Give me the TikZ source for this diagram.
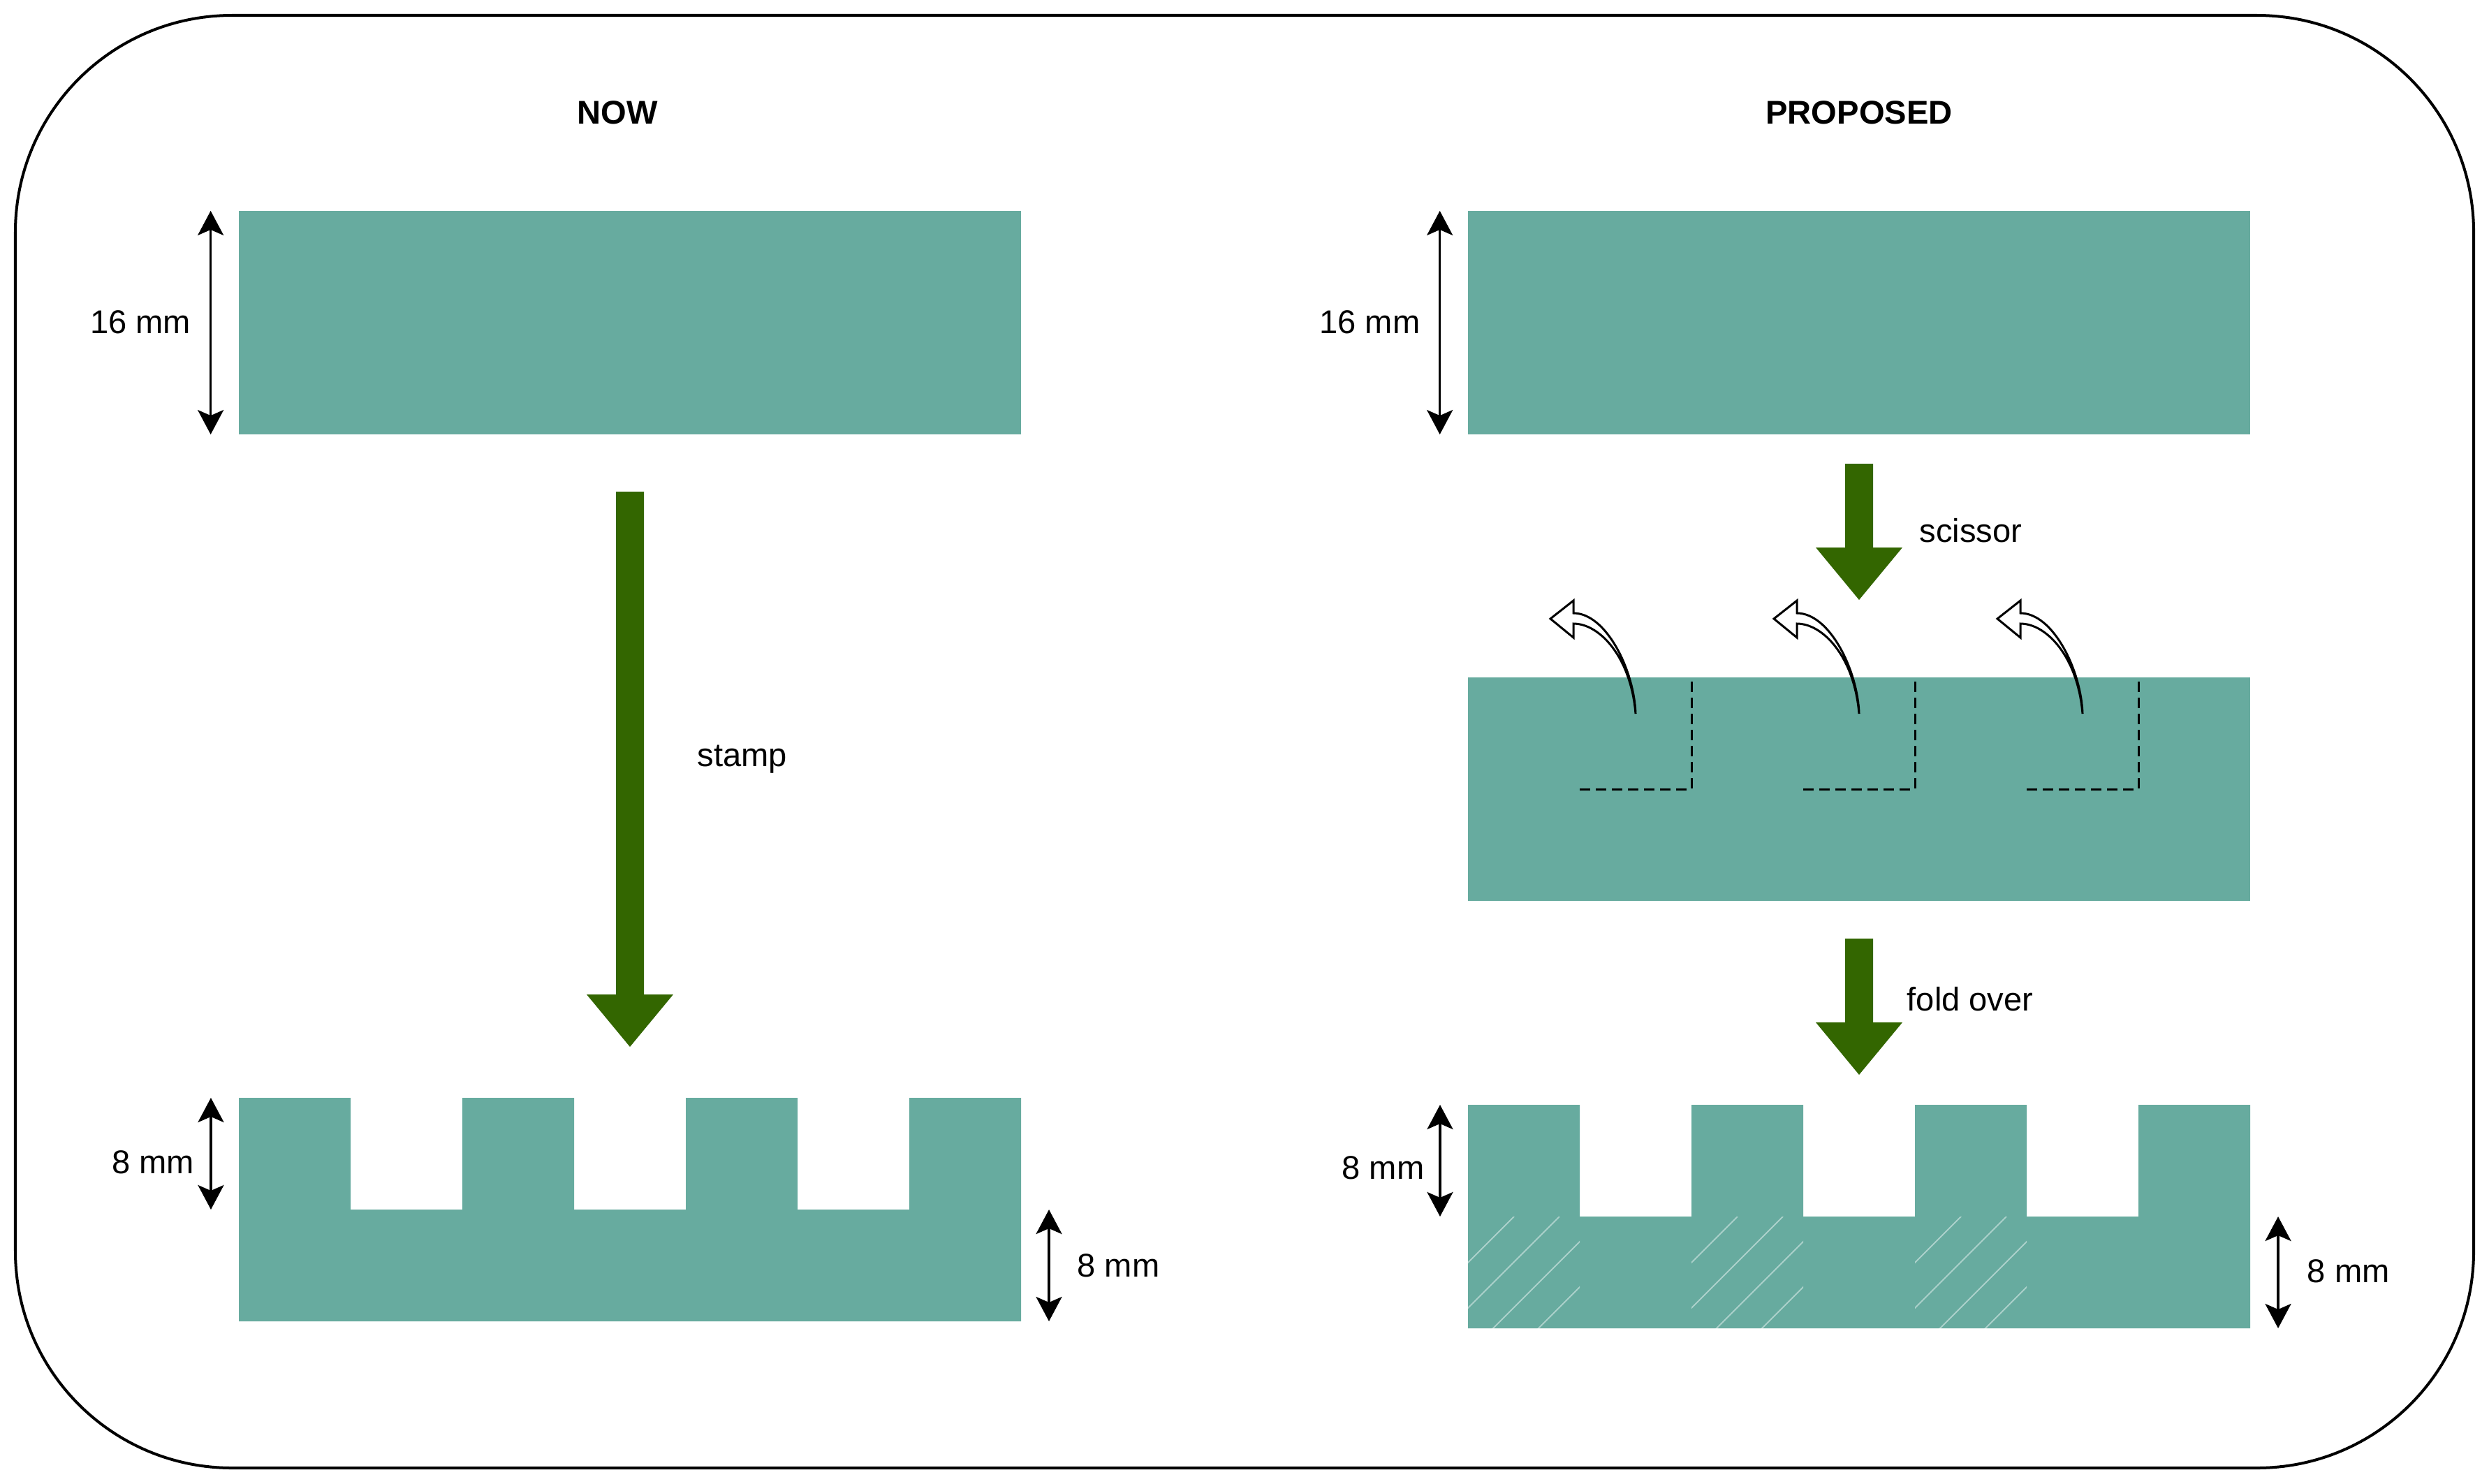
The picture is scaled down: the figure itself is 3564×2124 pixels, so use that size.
\documentclass[tikz,border=0pt]{standalone}
\usepackage{fontspec}
\setmainfont{Liberation Sans}
\usetikzlibrary{arrows.meta}
\definecolor{slabfill}{HTML}{67AB9F}
\definecolor{arrowgreen}{HTML}{336600}
\newcommand{\grarrow}[4]{% name, x center, top y, tip y
  \fill[bigarrow] (#2-20,#3) -- (#2+20,#3) -- (#2+20,#4-75) -- (#2+62,#4-75) -- (#2,#4) coordinate (#1) -- (#2-62,#4-75) -- (#2-20,#4-75) -- cycle;}
\newcommand{\flipper}[1]{% base x
  \filldraw[flip] (#1,1022) .. controls (#1-2,960) and (#1-42,878) .. (#1-89,878) -- (#1-89,860) -- (#1-122,886) -- (#1-89,913) -- (#1-89,893) .. controls (#1-52,893) and (#1-7,940) .. (#1,1022) -- cycle;}
\newcommand{\combshape}[3]{% left x, top y, name
  \fill[slabfill] (#1,#2) -- ++(160,0) -- ++(0,160) -- ++(160,0) -- ++(0,-160) -- ++(160,0) -- ++(0,160) -- ++(160,0) -- ++(0,-160) -- ++(160,0) -- ++(0,160) -- ++(160,0) -- ++(0,-160) -- ++(160,0) -- ++(0,320) -- ++(-1120,0) -- cycle;
  \coordinate (#3-nw) at (#1,#2);
  \coordinate (#3-mw) at (#1,#2+160);
  \coordinate (#3-sw) at (#1,#2+320);
  \coordinate (#3-ne) at (#1+1120,#2);
  \coordinate (#3-me) at (#1+1120,#2+160);
  \coordinate (#3-se) at (#1+1120,#2+320);}
\begin{document}
\begin{tikzpicture}[x=0.01cm,y=-0.01cm,
  slab/.style={fill=slabfill, draw=none, inner sep=0, outer sep=0, minimum width=11.2cm, minimum height=3.2cm},
  dim/.style={line width=0.035cm, {Stealth[length=0.35cm,width=0.37cm,inset=0.08cm]}-{Stealth[length=0.35cm,width=0.37cm,inset=0.08cm]}},
  lbl/.style={font=\fontsize{13.4pt}{16pt}\selectfont, inner sep=0},
  ttl/.style={font=\bfseries\fontsize{13.4pt}{16pt}\selectfont, inner sep=0},
  cut/.style={line width=0.03cm, dash pattern=on 0.15cm off 0.08cm},
  bigarrow/.style={fill=arrowgreen},
  flip/.style={draw=black, fill=white, line width=0.03cm, line join=miter},
  hatch/.style={draw=white, draw opacity=0.45, line width=0.02cm}]

\useasboundingbox (0,0) rectangle (3564,2124);
\draw[line width=0.04cm, rounded corners=3.1cm] (22,22) rectangle (3542,2102);

% titles
\node[ttl, anchor=base] (tnow) at (884,177) {NOW};
\node[ttl, anchor=base] (tpro) at (2662,177) {PROPOSED};

% top slabs
\node[slab] (nowtop) at (902,462) {};
\node[slab] (protop) at (2662,462) {};
\node[slab] (promid) at (2662,1130) {};

% combs
\combshape{342}{1572}{cl}
\combshape{2102}{1582}{cr}

% hatch on folded parts
\foreach \xo in {2102,2422,2742}{
  \begin{scope}
    \clip (\xo,1742) rectangle (\xo+160,1902);
    \foreach \c in {66,131,196,261}
      \draw[hatch] (\xo+\c,1742) -- (\xo+\c-220,1962);
  \end{scope}
}

% dimension arrows
\draw[dim] ([xshift=-0.4cm]nowtop.north west) -- ([xshift=-0.4cm]nowtop.south west);
\draw[dim] ([xshift=-0.4cm]protop.north west) -- ([xshift=-0.4cm]protop.south west);
\draw[dim] ([xshift=-0.4cm]cl-nw) -- ([xshift=-0.4cm]cl-mw);
\draw[dim] ([xshift=0.4cm]cl-me) -- ([xshift=0.4cm]cl-se);
\draw[dim] ([xshift=-0.4cm]cr-nw) -- ([xshift=-0.4cm]cr-mw);
\draw[dim] ([xshift=0.4cm]cr-me) -- ([xshift=0.4cm]cr-se);

% dimension labels
\node[lbl, anchor=base east] (l16a) at (274,477) {16 mm};
\node[lbl, anchor=base east] (l16b) at (2034,477) {16 mm};
\node[lbl, anchor=base east] (l8a) at (279,1680) {8 mm};
\node[lbl, anchor=base west] (l8b) at (1542,1828) {8 mm};
\node[lbl, anchor=base east] (l8c) at (2040,1688) {8 mm};
\node[lbl, anchor=base west] (l8d) at (3303,1836) {8 mm};

% green process arrows
\grarrow{tipstamp}{902}{704}{1499}
\grarrow{tipscissor}{2662}{664}{859}
\grarrow{tipfold}{2662}{1344}{1539}
\node[lbl, anchor=base west] (lstamp) at (998,1097) {stamp};
\node[lbl, anchor=base west] (lscissor) at (2748,776) {scissor};
\node[lbl, anchor=base west] (lfold) at (2730,1447) {fold over};

% cut lines
\foreach \k in {0,320,640}{
  \draw[cut] (2262+\k,1130) -- (2422+\k,1130) -- (2422+\k,968);
}

% fold-up arrows
\flipper{2342}
\flipper{2662}
\flipper{2982}

\end{tikzpicture}
\end{document}
